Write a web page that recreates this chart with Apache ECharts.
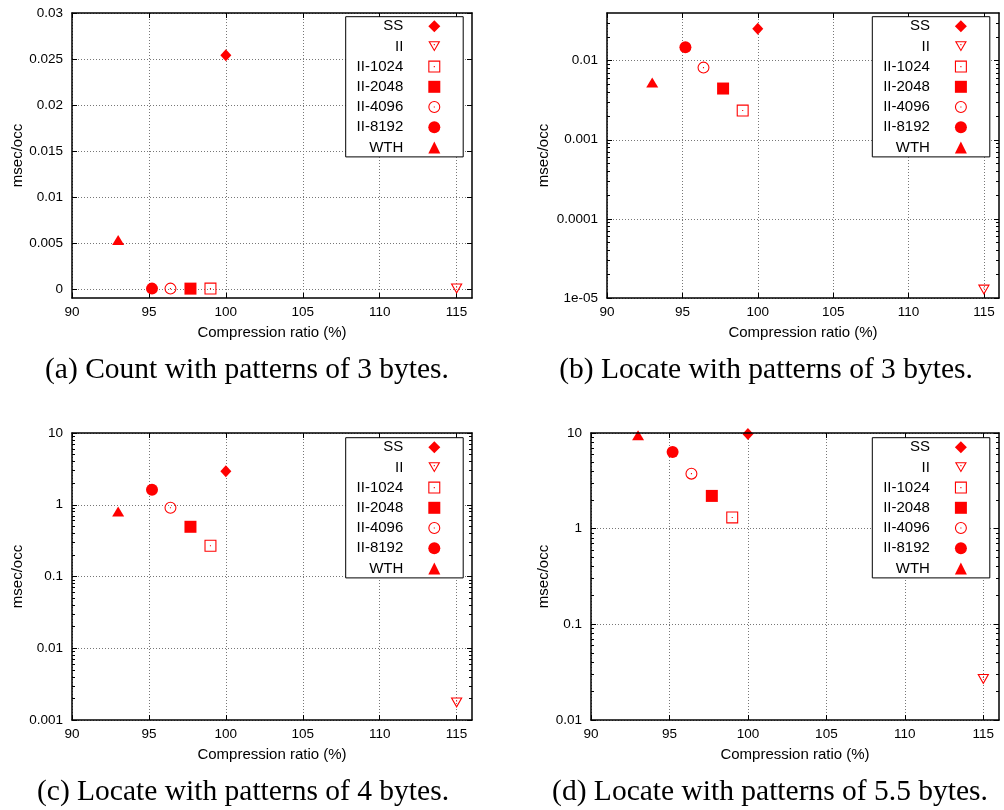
<!DOCTYPE html>
<html>
<head>
<meta charset="utf-8">
<script src="https://cdn.jsdelivr.net/npm/echarts@6/dist/echarts.min.js"></script>
<style>
html,body{margin:0;padding:0;background:#fff;}
#chart{width:1004px;height:810px;}
</style>
</head>
<body>
<div id="chart"></div>
<script>
// ---------------- data ----------------
const seriesNames = ['SS', 'II', 'II-1024', 'II-2048', 'II-4096', 'II-8192', 'WTH'];
// compression ratio (%) of each structure (x)
const compression = [100.0, 115.0, 99.0, 97.7, 96.4, 95.2, 93.0];
// msec/occ (y) per panel, same order as seriesNames
const countP3   = [0.0254, 0.00001, 0.00002, 0.00002, 0.00002, 0.00002, 0.0053];
const locateP3  = [0.0253, 0.0000127, 0.00234, 0.00444, 0.00816, 0.0148, 0.0053];
const locateP4  = [2.94, 0.00174, 0.268, 0.493, 0.908, 1.62, 0.807];
const locateP55 = [9.78, 0.0267, 1.31, 2.20, 3.76, 6.34, 9.46];

const xTicks  = [90, 95, 100, 105, 110, 115];
const xLabels = ['90', '95', '100', '105', '110', '115'];
const yTicksA  = [0, 0.005, 0.01, 0.015, 0.02, 0.025, 0.03];
const yLabelsA = ['0', '0.005', '0.01', '0.015', '0.02', '0.025', '0.03'];
const yTicksB  = [0.00001, 0.0001, 0.001, 0.01];
const yLabelsB = ['1e-05', '0.0001', '0.001', '0.01'];
const yTicksC  = [0.001, 0.01, 0.1, 1, 10];
const yLabelsC = ['0.001', '0.01', '0.1', '1', '10'];
const yTicksD  = [0.01, 0.1, 1, 10];
const yLabelsD = ['0.01', '0.1', '1', '10'];

const xTitle = 'Compression ratio (%)';
const yTitle = 'msec/occ';
const captions = [
  '(a) Count with patterns of 3 bytes.',
  '(b) Locate with patterns of 3 bytes.',
  '(c) Locate with patterns of 4 bytes.',
  '(d) Locate with patterns of 5.5 bytes.'
];

// ---------------- styling / layout ----------------
const SANS = 'Liberation Sans';
const SERIF = 'Liberation Serif';
const RED = '#ff0000';
const X_MIN = 90, X_MAX = 116;

const symCircleRing = 'path://M0,11A11,11,0,1,1,22,11A11,11,0,1,1,0,11ZM2,11A9,9,0,1,0,20,11A9,9,0,1,0,2,11ZM10,10H12V12H10Z';
const symSquareRing = 'path://M0,0H22V22H0ZM2,2V20H20V2ZM10,10H12V12H10Z';
const symTriDownRing = 'path://M0,0H22L11,19ZM3.46,2L11,15L18.54,2ZM10,5.3H12V7.3H10Z';
const symbols = ['diamond', symTriDownRing, symSquareRing, 'rect', symCircleRing, 'circle', 'triangle'];
const symbolSizes = [[11, 12], [12, 10.5], 12, 12, 12, 12, [12, 10]];

function minorLogTicks(lo, hi) {
  const out = [];
  for (let d = Math.floor(Math.log10(lo)); d <= Math.ceil(Math.log10(hi)); d++) {
    for (let m = 2; m <= 9; m++) {
      const v = m * Math.pow(10, d);
      if (v > lo * 1.0000001 && v < hi * 0.9999999) out.push(v);
    }
  }
  return out;
}
function lookup(ticks, labels, isLog) {
  return function (v) {
    for (let i = 0; i < ticks.length; i++) {
      if (isLog) {
        if (Math.abs(Math.log10(v) - Math.log10(ticks[i])) < 1e-6) return labels[i];
      } else if (Math.abs(v - ticks[i]) < 1e-9) return labels[i];
    }
    return '';
  };
}

const panels = [
  { values: countP3,  yType: 'value', yMin: -0.001, yMax: 0.03, yTicks: yTicksA, yLabels: yLabelsA,
    rect: {left: 72, top: 13, width: 400, height: 285}, yNameGap: 47,
    legend: {left: 345.7, top: 16.7}, cap: {x: 247, y: 370} },
  { values: locateP3, yType: 'log', yMin: 0.00001, yMax: 0.04, yTicks: yTicksB, yLabels: yLabelsB,
    rect: {left: 607, top: 13, width: 392, height: 285}, yNameGap: 56,
    legend: {left: 872.3, top: 16.7}, cap: {x: 766, y: 370} },
  { values: locateP4, yType: 'log', yMin: 0.001, yMax: 10, yTicks: yTicksC, yLabels: yLabelsC,
    rect: {left: 72, top: 433, width: 400, height: 287}, yNameGap: 47,
    legend: {left: 345.7, top: 437.7}, cap: {x: 243, y: 792} },
  { values: locateP55, yType: 'log', yMin: 0.01, yMax: 10, yTicks: yTicksD, yLabels: yLabelsD,
    rect: {left: 591, top: 433, width: 408, height: 287}, yNameGap: 40,
    legend: {left: 872.3, top: 437.7}, cap: {x: 770, y: 792} }
];

const gridLine = {color: '#777', width: 1, type: [1, 2]};
const frameLine = {color: '#000', width: 1.5};

const option = {
  animation: false,
  backgroundColor: '#fff',
  grid: [], xAxis: [], yAxis: [], series: [], legend: [], graphic: []
};

panels.forEach(P => option.grid.push(Object.assign({show: false, containLabel: false, outerBoundsMode: 'none'}, P.rect)));
panels.forEach(P => option.grid.push(Object.assign({show: false, containLabel: false, outerBoundsMode: 'none'}, P.rect)));

panels.forEach((P, p) => {
  const ov = panels.length + p;
  const isLog = P.yType === 'log';
  const yBase = {type: P.yType, min: P.yMin, max: P.yMax};
  if (isLog) yBase.logBase = 10;
  const xBase = {type: 'value', min: X_MIN, max: X_MAX};

  const xb = option.xAxis.length;
  option.xAxis.push(Object.assign({}, xBase, {
    gridIndex: p, position: 'bottom',
    name: xTitle, nameLocation: 'middle', nameGap: 27,
    nameTextStyle: {fontFamily: SANS, fontSize: 15, color: '#000'},
    axisLine: {show: false, onZero: false},
    axisTick: {show: true, inside: true, length: 5, customValues: xTicks, lineStyle: {color: '#000', width: 1}},
    axisLabel: {show: true, customValues: xTicks, margin: 7, fontFamily: SANS, fontSize: 13.5, color: '#000',
                formatter: lookup(xTicks, xLabels, false)},
    splitLine: {show: true, lineStyle: gridLine}
  }));
  option.xAxis.push(Object.assign({}, xBase, {
    gridIndex: p, position: 'top',
    axisLine: {show: false, onZero: false},
    axisTick: {show: true, inside: true, length: 5, customValues: xTicks, lineStyle: {color: '#000', width: 1}},
    axisLabel: {show: false},
    splitLine: {show: false}
  }));

  const yl = option.yAxis.length;
  option.yAxis.push(Object.assign({}, yBase, {
    gridIndex: p, position: 'left',
    name: yTitle, nameLocation: 'middle', nameRotate: 90, nameGap: P.yNameGap,
    nameTextStyle: {fontFamily: SANS, fontSize: 15, color: '#000'},
    axisLine: {show: false, onZero: false},
    axisTick: {show: true, inside: true, length: 5, customValues: P.yTicks, lineStyle: {color: '#000', width: 1}},
    axisLabel: {show: true, customValues: P.yTicks, margin: 9, fontFamily: SANS, fontSize: 13.5, color: '#000',
                formatter: lookup(P.yTicks, P.yLabels, isLog)},
    splitLine: {show: true, lineStyle: gridLine}
  }));
  option.yAxis.push(Object.assign({}, yBase, {
    gridIndex: p, position: 'right',
    axisLine: {show: false, onZero: false},
    axisTick: {show: true, inside: true, length: 5, customValues: P.yTicks, lineStyle: {color: '#000', width: 1}},
    axisLabel: {show: false},
    splitLine: {show: false}
  }));

  // overlay: frame + minor ticks
  const minors = isLog ? minorLogTicks(P.yMin, P.yMax) : null;
  ['bottom', 'top'].forEach(pos => option.xAxis.push(Object.assign({}, xBase, {
    gridIndex: ov, position: pos, z: 5,
    axisLine: {show: true, onZero: false, lineStyle: frameLine},
    axisTick: {show: false}, axisLabel: {show: false}, splitLine: {show: false}
  })));
  ['left', 'right'].forEach(pos => option.yAxis.push(Object.assign({}, yBase, {
    gridIndex: ov, position: pos, z: 5,
    axisLine: {show: true, onZero: false, lineStyle: frameLine},
    axisTick: minors ? {show: true, inside: true, length: 3, customValues: minors, lineStyle: {color: '#000', width: 1}} : {show: false},
    axisLabel: {show: false}, splitLine: {show: false}
  })));

  seriesNames.forEach((nm, i) => {
    option.series.push({
      type: 'scatter', name: nm, xAxisIndex: xb, yAxisIndex: yl,
      symbol: symbols[i], symbolSize: symbolSizes[i],
      itemStyle: {color: RED, opacity: 1},
      emphasis: {disabled: true},
      z: 3,
      data: [[compression[i], P.values[i]]]
    });
  });

  option.legend.push({
    orient: 'vertical', left: P.legend.left, top: P.legend.top,
    align: 'right', itemWidth: 12, itemHeight: 12, itemGap: 5.2,
    padding: [2, 22.9, 2, 10.6],
    backgroundColor: '#fff', borderColor: '#000', borderWidth: 1, borderRadius: 0,
    selectedMode: false, z: 4,
    data: seriesNames,
    textStyle: {fontFamily: SANS, fontSize: 15, color: '#000', width: 47, lineHeight: 15, padding: [0, 20, 0, 0]}
  });

  option.graphic.push({
    type: 'text', x: P.cap.x, y: P.cap.y, silent: true,
    style: {text: captions[p], fontFamily: SERIF, fontSize: 29.5, fill: '#000', align: 'center', verticalAlign: 'middle'}
  });
});

const chart = echarts.init(document.getElementById('chart'), null, {renderer: 'canvas'});
chart.setOption(option);
</script>
</body>
</html>
